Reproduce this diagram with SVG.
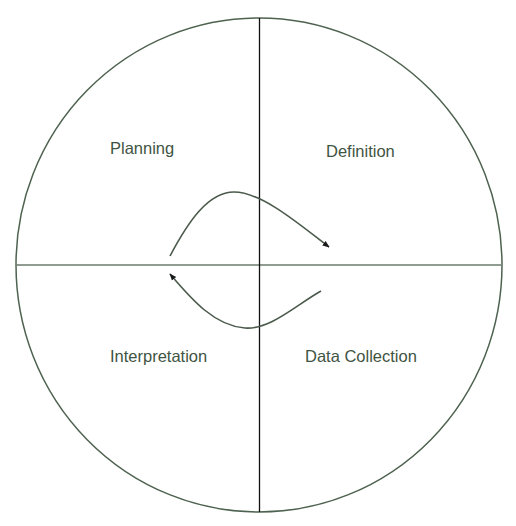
<svg xmlns="http://www.w3.org/2000/svg" width="516" height="526" viewBox="0 0 516 526">
<style>
.lbl{font-family:"Liberation Sans",Arial,sans-serif;font-size:16.5px;fill:#3f5443}
.flow{fill:none;stroke:#4a5a4c;stroke-width:1.6}
</style>
<defs>
<marker id="ah" viewBox="0 0 10 10" refX="9" refY="5" markerWidth="7" markerHeight="7" markerUnits="userSpaceOnUse" orient="auto">
<path d="M0,1 L10,5 L0,9 z" fill="#1a1a1a"/>
</marker>
</defs>
<rect width="516" height="526" fill="#ffffff"/>
<g id="frame">
<ellipse cx="259" cy="265" rx="243" ry="247" fill="none" stroke="#4e6250" stroke-width="1.5"/>
<line x1="16" y1="265" x2="501" y2="265" stroke="#6b7a6c" stroke-width="1.6"/>
<line x1="259.5" y1="18" x2="259.5" y2="512" stroke="#111111" stroke-width="1.3"/>
</g>
<g id="planning"><text class="lbl" x="110" y="154">Planning</text></g>
<g id="definition"><text class="lbl" x="326" y="157">Definition</text></g>
<g id="interpretation"><text class="lbl" x="110" y="362">Interpretation</text></g>
<g id="datacollection"><text class="lbl" x="305" y="362">Data Collection</text></g>
<g id="connectors">
<path class="flow" d="M170,256 C188,222 208,192 234,192 C262,192 300,225 329,247" marker-end="url(#ah)"/>
<path class="flow" d="M321,291 C296,305 270,330 245,328 C215,326 192,300 170,274" marker-end="url(#ah)"/>
</g>
</svg>
